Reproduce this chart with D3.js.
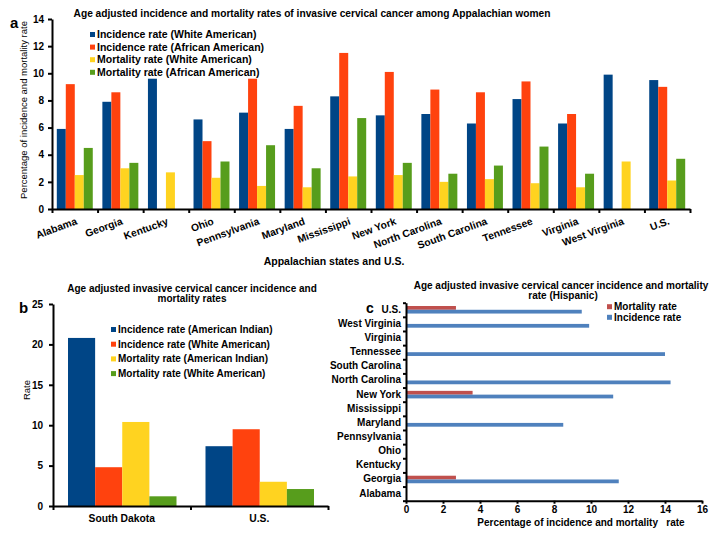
<!DOCTYPE html>
<html lang="en">
<head>
<meta charset="UTF-8">
<script src="https://d3js.org/d3.v7.min.js"></script>
<style>
  body { margin: 0; background: #fff; }
  svg text { font-family: "Liberation Sans", Arial, sans-serif; fill: #000; }
  .axis path, .axis line { stroke: #000; stroke-width: 2; }
  .axis text { font-weight: bold; font-size: 10px; }
</style>
</head>
<body>
<div id="chart"></div>
<script>
// ---- data (a) ----
const states = ["Alabama", "Georgia", "Kentucky", "Ohio", "Pennsylvania", "Maryland", "Mississippi",
  "New York", "North Carolina", "South Carolina", "Tennessee", "Virginia", "West Virginia", "U.S."];
const incWhite    = [5.9, 7.9, 9.6, 6.6, 7.1, 5.9, 8.3, 6.9, 7.0, 6.3, 8.1, 6.3, 9.9, 9.5];
const incAfrican  = [9.2, 8.6, null, 5.0, 9.6, 7.6, 11.5, 10.1, 8.8, 8.6, 9.4, 7.0, null, 9.0];
const mortWhite   = [2.5, 3.0, 2.7, 2.3, 1.7, 1.6, 2.4, 2.5, 2.0, 2.2, 1.9, 1.6, 3.5, 2.1];
const mortAfrican = [4.5, 3.4, null, 3.5, 4.7, 3.0, 6.7, 3.4, 2.6, 3.2, 4.6, 2.6, null, 3.7];
const seriesA = ["Incidence rate (White American)", "Incidence rate (African American)",
  "Mortality rate (White American)", "Mortality rate (African American)"];
const ticksA = [0, 2, 4, 6, 8, 10, 12, 14];

// ---- data (b) ----
const sites = ["South Dakota", "U.S."];
const incIndian  = [20.8, 7.4];
const incWhiteB  = [4.8, 9.5];
const mortIndian = [10.4, 3.0];
const mortWhiteB = [1.2, 2.1];
const seriesB = ["Incidence rate (American Indian)", "Incidence rate (White American)",
  "Mortality rate (American Indian)", "Mortality rate (White American)"];
const ticksB = [0, 5, 10, 15, 20, 25];

// ---- data (c) ----
const hispStates = ["Alabama", "Georgia", "Kentucky", "Ohio", "Pennsylvania", "Maryland", "Mississippi",
  "New York", "North Carolina", "South Carolina", "Tennessee", "Virginia", "West Virginia", "U.S."];
const hispMort = [null, 2.7, null, null, null, null, null, 3.6, null, null, null, null, null, 2.7];
const hispInc  = [null, 11.5, null, null, null, 8.5, null, 11.2, 14.3, null, 14.0, null, 9.9, 9.5];
const seriesC = ["Mortality rate", "Incidence rate"];
const ticksC = [0, 2, 4, 6, 8, 10, 12, 14, 16];

const colors4 = ["#004586", "#ff420e", "#ffd320", "#579d1c"];
const colorsC = ["#c0504d", "#4f81bd"];

const svg = d3.select("#chart").append("svg")
  .attr("width", 721).attr("height", 540);
svg.append("rect").attr("width", 721).attr("height", 540).attr("fill", "#fff");

function legend(g, names, cols, x, y0, dy, fs) {
  names.forEach((n, i) => {
    g.append("rect").attr("x", x).attr("y", y0 + i * dy - 2.5)
      .attr("width", 5).attr("height", 5).attr("fill", cols[i]);
    g.append("text").attr("x", x + 7).attr("y", y0 + i * dy + 3.5)
      .attr("font-size", fs).attr("font-weight", "bold").text(n);
  });
}

// ================= panel a =================
{
  const g = svg.append("g");
  const y = d3.scaleLinear().domain([0, 14]).range([209, 19]);
  const x0 = d3.scaleBand().domain(states).range([52, 690]);
  const x1 = d3.scaleBand().domain(d3.range(4)).range([4.8, x0.bandwidth() - 4.8]);
  const xi = d3.scaleLinear().domain([0, states.length]).range([52, 690]);
  const data = [incWhite, incAfrican, mortWhite, mortAfrican];

  states.forEach((s, i) => {
    data.forEach((arr, k) => {
      if (arr[i] == null) return;
      g.append("rect")
        .attr("x", x0(s) + x1(k)).attr("width", x1.bandwidth())
        .attr("y", y(arr[i])).attr("height", y(0) - y(arr[i]))
        .attr("fill", colors4[k]);
    });
  });

  g.append("g").attr("class", "axis").attr("transform", "translate(52,0)")
    .call(d3.axisLeft(y).tickValues(ticksA).tickSize(4).tickSizeOuter(0).tickPadding(4));
  g.append("g").attr("class", "axis").attr("transform", "translate(0,209)")
    .call(d3.axisBottom(xi).ticks(14).tickSize(4).tickSizeOuter(0).tickFormat(""));

  states.forEach(s => {
    const cx = x0(s) + x0.bandwidth() / 2 + 3;
    g.append("text").attr("transform", `translate(${cx},224) rotate(-20)`)
      .attr("text-anchor", "end").attr("font-size", 10.3).attr("font-weight", "bold").text(s);
  });

  g.append("text").attr("x", 312).attr("y", 17).attr("text-anchor", "middle")
    .attr("font-size", 10.2).attr("font-weight", "bold")
    .text("Age adjusted incidence and mortality rates of invasive cervical cancer among Appalachian women");
  g.append("text").attr("x", 10).attr("y", 28).attr("font-size", 15).attr("font-weight", "bold").text("a");
  g.append("text").attr("transform", "translate(27,110) rotate(-90)").attr("text-anchor", "middle")
    .attr("font-size", 9.5).text("Percentage of incidence and mortality rate");
  g.append("text").attr("x", 334).attr("y", 265).attr("text-anchor", "middle")
    .attr("font-size", 10.5).attr("font-weight", "bold").text("Appalachian states and U.S.");
  legend(g, seriesA, colors4, 90, 34.5, 12.6, 10.5);
}

// ================= panel b =================
{
  const g = svg.append("g");
  const y = d3.scaleLinear().domain([0, 25]).range([506, 304]);
  const x0 = d3.scaleBand().domain(sites).range([53, 328]);
  const x1 = d3.scaleBand().domain(d3.range(4)).range([15, x0.bandwidth() - 14]);
  const xi = d3.scaleLinear().domain([0, sites.length]).range([53, 328]);
  const data = [incIndian, incWhiteB, mortIndian, mortWhiteB];

  sites.forEach((s, i) => {
    data.forEach((arr, k) => {
      g.append("rect")
        .attr("x", x0(s) + x1(k)).attr("width", x1.bandwidth())
        .attr("y", y(arr[i])).attr("height", y(0) - y(arr[i]))
        .attr("fill", colors4[k]);
    });
  });

  g.append("g").attr("class", "axis").attr("transform", "translate(53,0)")
    .call(d3.axisLeft(y).tickValues(ticksB).tickSize(4).tickSizeOuter(0).tickPadding(6));
  g.append("g").attr("class", "axis").attr("transform", "translate(0,506)")
    .call(d3.axisBottom(xi).ticks(2).tickSize(4).tickSizeOuter(0).tickFormat(""));

  sites.forEach(s => {
    g.append("text").attr("x", x0(s) + x0.bandwidth() / 2).attr("y", 522)
      .attr("text-anchor", "middle").attr("font-size", 10.3).attr("font-weight", "bold").text(s);
  });

  g.append("text").attr("x", 192).attr("y", 292).attr("text-anchor", "middle")
    .attr("font-size", 10).attr("font-weight", "bold")
    .text("Age adjusted invasive cervical cancer incidence and");
  g.append("text").attr("x", 192).attr("y", 302).attr("text-anchor", "middle")
    .attr("font-size", 10).attr("font-weight", "bold").text("mortality rates");
  g.append("text").attr("x", 19).attr("y", 313).attr("font-size", 15).attr("font-weight", "bold").text("b");
  g.append("text").attr("transform", "translate(30,390) rotate(-90)").attr("text-anchor", "middle")
    .attr("font-size", 9.5).text("Rate");
  legend(g, seriesB, colors4, 111, 329.5, 14.7, 10);
}

// ================= panel c =================
{
  const g = svg.append("g");
  const x = d3.scaleLinear().domain([0, 16]).range([406, 702]);
  const y0 = d3.scaleBand().domain(hispStates.slice().reverse()).range([302.7, 500.7]);
  const yi = d3.scaleLinear().domain([0, hispStates.length]).range([302.7, 500.7]);
  const y1 = d3.scaleBand().domain(d3.range(2)).range([3.3, y0.bandwidth() - 3.3]);
  const data = [hispMort, hispInc];

  hispStates.forEach((s, i) => {
    data.forEach((arr, k) => {
      if (arr[i] == null) return;
      g.append("rect")
        .attr("x", x(0)).attr("width", x(arr[i]) - x(0))
        .attr("y", y0(s) + y1(k)).attr("height", y1.bandwidth())
        .attr("fill", colorsC[k]);
    });
  });

  g.append("g").attr("class", "axis").attr("transform", "translate(0,500.7)")
    .call(d3.axisBottom(x).tickValues(ticksC).tickSize(3).tickSizeOuter(0).tickPadding(2));
  g.append("g").attr("class", "axis").attr("transform", "translate(406,0)")
    .call(d3.axisLeft(yi).ticks(14).tickSize(3).tickSizeOuter(0).tickFormat(""));

  hispStates.forEach(s => {
    g.append("text").attr("x", 401).attr("y", y0(s) + y0.bandwidth() / 2 + 3)
      .attr("text-anchor", "end").attr("font-size", 10).attr("font-weight", "bold").text(s);
  });

  g.append("text").attr("x", 561).attr("y", 289).attr("text-anchor", "middle")
    .attr("font-size", 10).attr("font-weight", "bold")
    .text("Age adjusted invasive cervical cancer incidence and mortality");
  g.append("text").attr("x", 563).attr("y", 299).attr("text-anchor", "middle")
    .attr("font-size", 10).attr("font-weight", "bold").text("rate (Hispanic)");
  g.append("text").attr("x", 366).attr("y", 313).attr("font-size", 14).attr("font-weight", "bold").text("c");
  g.append("text").attr("x", 581).attr("y", 526).attr("text-anchor", "middle")
    .attr("font-size", 10).attr("font-weight", "bold").attr("xml:space", "preserve")
    .text("Percentage of incidence and mortality   rate");
  legend(g, seriesC, colorsC, 607, 306.7, 10.6, 10);
}
</script>
</body>
</html>
